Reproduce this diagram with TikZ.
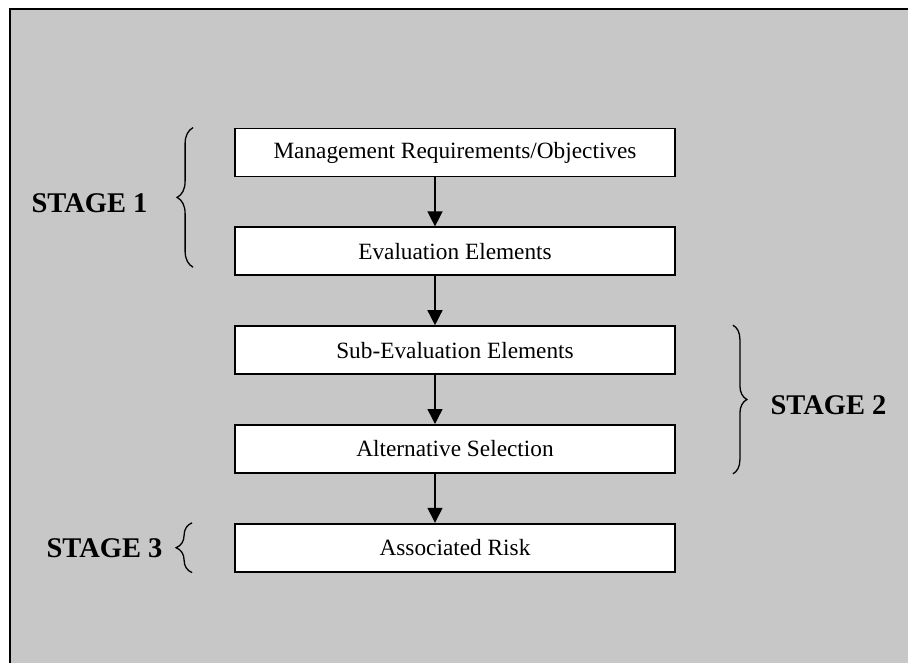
\documentclass[tikz,border=0pt]{standalone}
\usepackage{fontspec}
\setmainfont{Liberation Serif}
\usetikzlibrary{arrows.meta,positioning,calc,decorations.pathreplacing}

\begin{document}
\begin{tikzpicture}[x=1pt,y=-1pt,font=\fontsize{23.3}{28}\selectfont,
  stagebox/.style={draw,line width=1.8pt,fill=white,minimum width=440pt,minimum height=48pt,inner sep=0pt},
  flow/.style={line width=1.4pt,-{Triangle[length=15pt,width=15pt]}},
  stagelbl/.style={font=\fontsize{28.5}{32}\selectfont\bfseries},
  stagebrace/.style={decorate,decoration={brace,amplitude=#1},line width=1.3pt}]
\pgfmathsetmacro{\gap}{49}
\path[use as bounding box] (0,0) rectangle (908,662);
\clip (0,0) rectangle (908,662);
\draw[line width=2pt,fill=black!22] (10,9) rectangle (940,700);
% flow of the evaluation
\node[stagebox] (req) at (455,152.5) {Management Requirements/Objectives};
\node[stagebox,below=\gap pt of req] (eval) {Evaluation Elements};
\node[stagebox,below=\gap pt of eval] (subeval) {Sub-Evaluation Elements};
\node[stagebox,below=\gap pt of subeval] (alt) {Alternative Selection};
\node[stagebox,below=\gap pt of alt] (risk) {Associated Risk};
\coordinate (ax) at (435,0);
\foreach \a/\b in {req/eval,eval/subeval,subeval/alt,alt/risk}
  \draw[flow] (\a.south -| ax) -- (\b.north -| ax);
% stages
\draw[stagebrace=16pt] ($(eval.south west)+(-41,-9)$) -- ($(req.north west)+(-41,0)$);
\draw[stagebrace=14pt] ($(subeval.north east)+(57,0)$) -- ($(alt.south east)+(57,0)$);
\draw[stagebrace=16pt] ($(risk.south west)+(-42,0)$) -- ($(risk.north west)+(-42,0)$);
\node[stagelbl,anchor=east] (st1) at (151,203) {STAGE 1};
\node[stagelbl,anchor=west] (st2) at (767,405) {STAGE 2};
\node[stagelbl,anchor=east] (st3) at (166,548) {STAGE 3};
\end{tikzpicture}
\end{document}
